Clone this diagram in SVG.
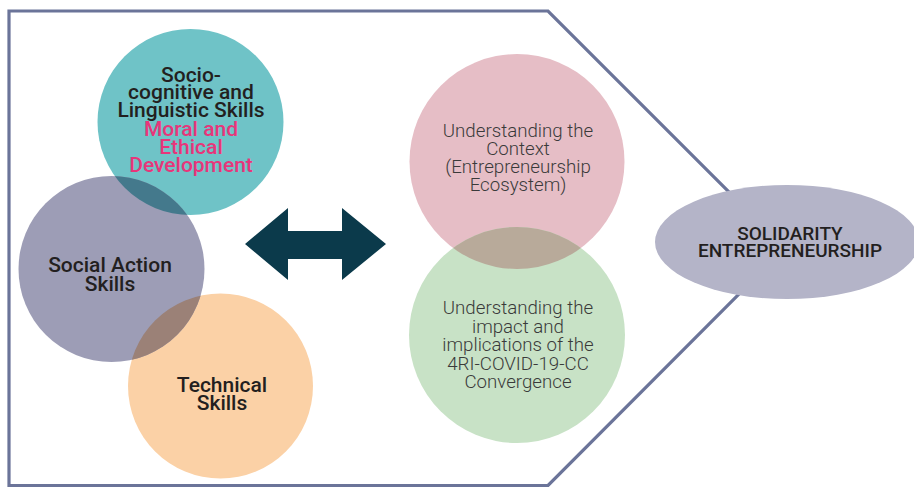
<svg xmlns="http://www.w3.org/2000/svg" width="914" height="487" viewBox="0 0 914 487">
<style>
.dk{font-family:Roboto,"Liberation Sans",sans-serif;font-weight:500;font-size:21px;fill:#231f20;text-anchor:middle}
.pk{font-family:Roboto,"Liberation Sans",sans-serif;font-weight:500;font-size:21px;fill:#e8357a;text-anchor:middle}
.lt{font-family:Roboto,"Liberation Sans",sans-serif;font-weight:300;font-size:18.7px;fill:#3a3a3a;text-anchor:middle}
.el{font-family:Roboto,"Liberation Sans",sans-serif;font-weight:500;font-size:19px;fill:#231f20;text-anchor:middle}
</style>
<defs>
<clipPath id="cTeal"><circle cx="190.5" cy="122" r="93"/></clipPath>
<clipPath id="cOrange"><circle cx="220.5" cy="386" r="92.5"/></clipPath>
<clipPath id="cPink"><circle cx="517" cy="161.5" r="107.5"/></clipPath>
</defs>
<rect width="914" height="487" fill="#ffffff"/>
<path d="M9,11 L548,11 L785,248 L548,485.5 L9,485.5 Z" fill="none" stroke="#6b7499" stroke-width="3.2"/>
<g id="teal">
<circle cx="190.5" cy="122" r="93" fill="#6fc3c7"/>
</g>
<g id="orange">
<circle cx="220.5" cy="386" r="92.5" fill="#fbd1a6"/>
</g>
<g id="gray">
<circle cx="111.5" cy="269" r="93" fill="#9d9db6"/>
<circle cx="111.5" cy="269" r="93" fill="#44798c" clip-path="url(#cTeal)"/>
<circle cx="111.5" cy="269" r="93" fill="#9b8177" clip-path="url(#cOrange)"/>
</g>
<g id="pink">
<circle cx="517" cy="161.5" r="107.5" fill="#e6bec6"/>
</g>
<g id="green">
<circle cx="517" cy="335" r="108" fill="#c8e2c6"/>
<circle cx="517" cy="335" r="108" fill="#b8aa9a" clip-path="url(#cPink)"/>
</g>
<g id="solidarity">
<ellipse cx="787" cy="242" rx="132" ry="57" fill="#b4b4c8"/>
<text class="el" x="790" y="240">SOLIDARITY</text>
<text class="el" x="790" y="257">ENTREPRENEURSHIP</text>
</g>
<g id="labels">
<text class="dk" x="191" y="81.5">Socio-</text>
<text class="dk" x="191" y="99">cognitive and</text>
<text class="dk" x="191" y="116.5">Linguistic Skills</text>
<text class="pk" x="191" y="136">Moral and</text>
<text class="pk" x="191" y="154">Ethical</text>
<text class="pk" x="191" y="171.5">Development</text>
<text class="dk" x="110" y="272">Social Action</text>
<text class="dk" x="110" y="291">Skills</text>
<text class="dk" x="222" y="392">Technical</text>
<text class="dk" x="222" y="410">Skills</text>
<text class="lt" x="518" y="137">Understanding the</text>
<text class="lt" x="518" y="155">Context</text>
<text class="lt" x="518" y="173">(Entrepreneurship</text>
<text class="lt" x="518" y="191">Ecosystem)</text>
<text class="lt" x="518" y="314">Understanding the</text>
<text class="lt" x="518" y="332.5">impact and</text>
<text class="lt" x="518" y="351">implications of the</text>
<text class="lt" x="518" y="369.5">4RI-COVID-19-CC</text>
<text class="lt" x="518" y="388">Convergence</text>
</g>
<g id="connectors">
<polygon points="245,244 288,208 288,231 342,231 342,208 386,244 342,280 342,259 288,259 288,280" fill="#0b3a4b"/>
</g>
</svg>
